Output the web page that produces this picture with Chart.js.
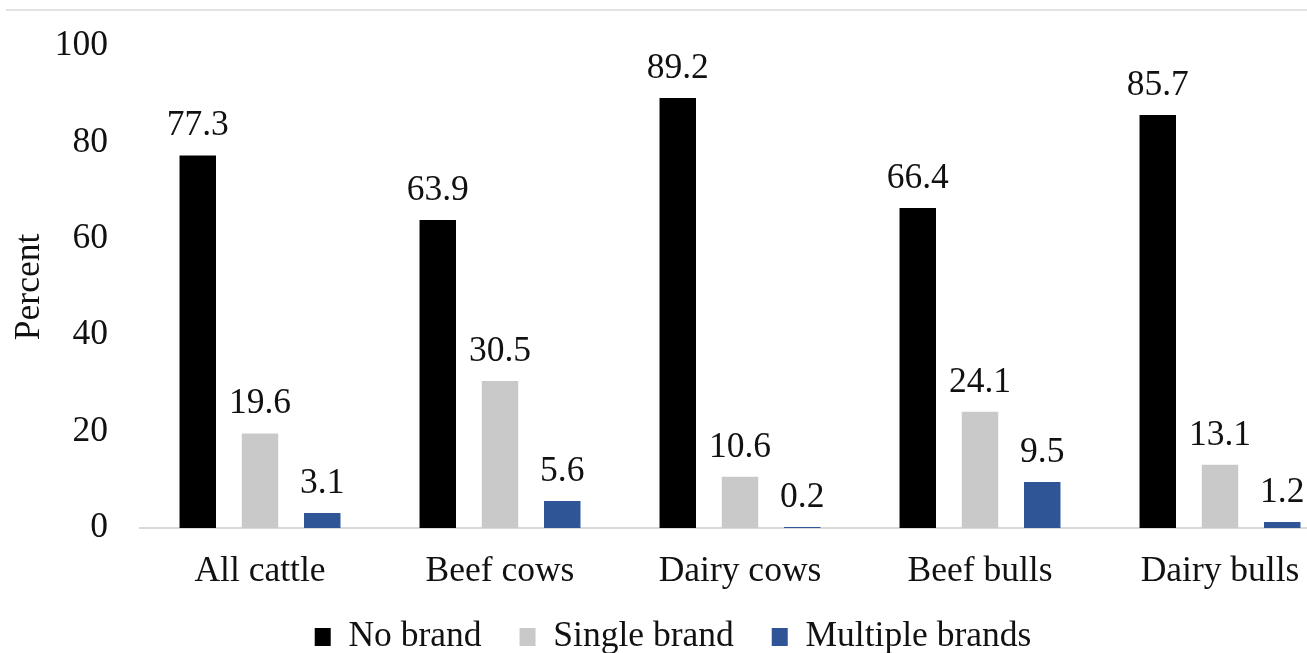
<!DOCTYPE html>
<html>
<head>
<meta charset="utf-8">
<script src="https://cdn.jsdelivr.net/npm/chart.js@4.4.1/dist/chart.umd.min.js"></script>
<style>
  html, body { margin: 0; padding: 0; background: #ffffff; overflow: hidden; }
  #topline { position: absolute; top: 9px; left: 6px; width: 1400px; height: 0; border-top: 2px solid #e2e2e2; }
  #wrap { position: absolute; left: 0; top: 0; width: 1352px; height: 698px; }
</style>
</head>
<body>
<div id="topline"></div>
<div id="wrap"><canvas id="c"></canvas></div>
<script>
const categories = ['All cattle', 'Beef cows', 'Dairy cows', 'Beef bulls', 'Dairy bulls'];
const seriesNames = ['No brand', 'Single brand', 'Multiple brands'];
const noBrand = [77.3, 63.9, 89.2, 66.4, 85.7];
const singleBrand = [19.6, 30.5, 10.6, 24.1, 13.1];
const multipleBrands = [3.1, 5.6, 0.2, 9.5, 1.2];
const yTicks = [0, 20, 40, 60, 80, 100];

const FONT = "'Liberation Serif', 'Times New Roman', serif";
const FS = 35.5;
const TXT = '#111111';
const LEGEND_PAD = 38;

const valueLabels = {
  id: 'valueLabels',
  afterDatasetsDraw(chart) {
    const ctx = chart.ctx;
    ctx.save();
    ctx.font = FS + 'px ' + FONT;
    ctx.fillStyle = TXT;
    ctx.textAlign = 'center';
    ctx.textBaseline = 'alphabetic';
    chart.data.datasets.forEach((ds, i) => {
      chart.getDatasetMeta(i).data.forEach((bar, j) => {
        ctx.fillText(ds.data[j].toFixed(1), bar.x, bar.y - 20);
      });
    });
    ctx.restore();
  }
};

// place the legend row where the reference has it
const legendPlacer = {
  id: 'legendPlacer',
  afterLayout(chart) {
    const lg = chart.legend;
    if (!lg) return;
    const wantMiddle = 637;
    const dy = wantMiddle - (lg.top + LEGEND_PAD + FS / 2);
    const dx = 3;
    lg.top += dy; lg.bottom += dy;
    lg.left += dx; lg.right += dx;
  }
};

const common = { categoryPercentage: 0.778, barPercentage: 0.586, borderWidth: 0 };

new Chart(document.getElementById('c'), {
  type: 'bar',
  data: {
    labels: categories,
    datasets: [
      Object.assign({ label: seriesNames[0], data: noBrand, backgroundColor: '#000000' }, common),
      Object.assign({ label: seriesNames[1], data: singleBrand, backgroundColor: '#c9c9c9' }, common),
      Object.assign({ label: seriesNames[2], data: multipleBrands, backgroundColor: '#2f5597' }, common)
    ]
  },
  options: {
    responsive: true,
    maintainAspectRatio: false,
    animation: false,
    layout: { padding: { top: 46, right: 12, bottom: 0, left: 0 } },
    font: { family: FONT, size: FS },
    plugins: {
      legend: {
        position: 'bottom',
        align: 'center',
        labels: {
          boxWidth: 16,
          boxHeight: 18,
          padding: LEGEND_PAD,
          color: TXT,
          font: { family: FONT, size: FS }
        }
      },
      tooltip: { enabled: false }
    },
    scales: {
      x: {
        grid: { display: false, drawTicks: false },
        border: { display: true, color: '#d9d9d9', width: 2 },
        ticks: { color: TXT, padding: 22, font: { family: FONT, size: FS } }
      },
      y: {
        min: 0,
        max: 100,
        afterBuildTicks(scale) { scale.ticks = yTicks.map(v => ({ value: v })); },
        grid: { display: false, drawTicks: false },
        border: { display: false },
        ticks: { color: TXT, padding: 32, font: { family: FONT, size: FS, lineHeight: 0.5 } },
        title: {
          display: true,
          text: 'Percent',
          color: TXT,
          font: { family: FONT, size: FS },
          padding: { top: 8, bottom: 4 }
        },
        afterFit(scale) { scale.width = 140; }
      }
    }
  },
  plugins: [valueLabels, legendPlacer]
});
</script>
</body>
</html>
